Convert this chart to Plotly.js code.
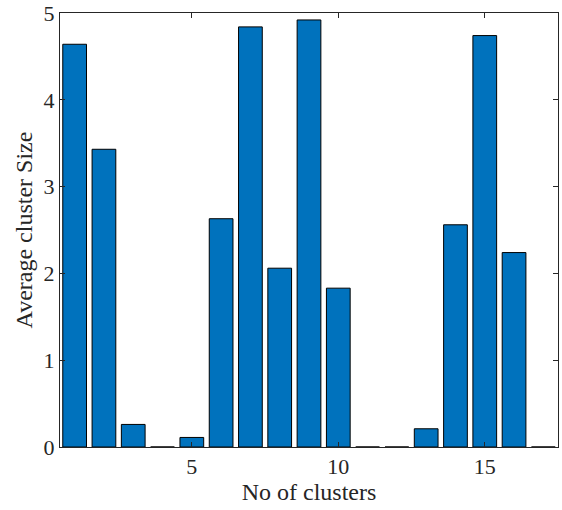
<!DOCTYPE html>
<html>
<head>
<meta charset="utf-8">
<script src="https://cdn.plot.ly/plotly-3.0.1.min.js"></script>
<style>html,body{margin:0;padding:0;background:#fff;}#chart{width:562px;height:510px;}</style>
</head>
<body>
<div id="chart"></div>
<script>
var clusters = [1,2,3,4,5,6,7,8,9,10,11,12,13,14,15,16,17];
var avgSize = [4.64,3.43,0.26,0,0.11,2.63,4.84,2.06,4.92,1.83,0,0,0.21,2.56,4.74,2.24,0];
var xTicks = [5,10,15];
var yTicks = [0,1,2,3,4,5];

var axisColor = '#262626';
var fontFam = '"Liberation Serif", "Times New Roman", serif';

var trace = {
  type: 'bar',
  x: clusters,
  y: avgSize,
  marker: {color: '#0072BD', line: {color: '#000000', width: 1}},
  hoverinfo: 'x+y'
};

var layout = {
  width: 562, height: 510,
  margin: {l: 60, r: 4, t: 13, b: 63},
  paper_bgcolor: '#ffffff',
  plot_bgcolor: '#ffffff',
  bargap: 0.19,
  showlegend: false,
  font: {family: fontFam, color: axisColor, size: 22},
  xaxis: {
    range: [0.5, 17.5],
    tickvals: xTicks,
    ticktext: xTicks.map(String),
    ticks: 'inside', ticklen: 5, tickwidth: 1, tickcolor: axisColor,
    showline: true, linecolor: axisColor, linewidth: 1, mirror: 'ticks',
    showgrid: false, zeroline: false,
    tickfont: {family: fontFam, size: 22, color: axisColor},
    title: {text: 'No of clusters', font: {family: fontFam, size: 24, color: axisColor}, standoff: 2}
  },
  yaxis: {
    range: [0, 5],
    tickvals: yTicks,
    ticktext: yTicks.map(String),
    ticks: 'inside', ticklen: 5, tickwidth: 1, tickcolor: axisColor,
    showline: true, linecolor: axisColor, linewidth: 1, mirror: 'ticks',
    showgrid: false, zeroline: false,
    tickfont: {family: fontFam, size: 22, color: axisColor},
    title: {text: 'Average cluster Size', font: {family: fontFam, size: 24, color: axisColor}, standoff: 4}
  }
};

Plotly.newPlot('chart', [trace], layout, {displayModeBar: false, staticPlot: true});
</script>
</body>
</html>
